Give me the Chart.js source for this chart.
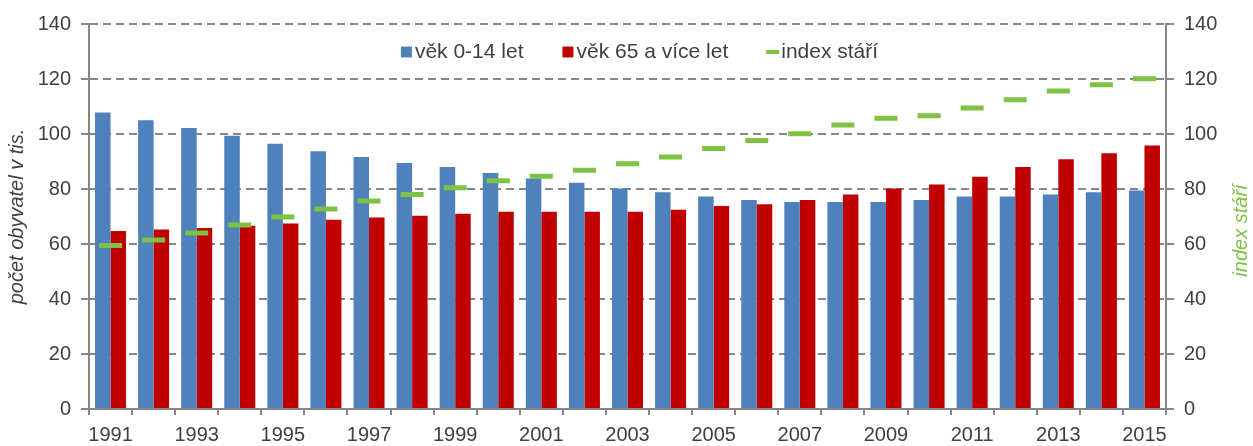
<!DOCTYPE html>
<html>
<head>
<meta charset="utf-8">
<script src="https://cdn.jsdelivr.net/npm/chart.js@4"></script>
<style>
  html, body { margin: 0; padding: 0; background: #fff; }
  #wrap { width: 1253px; height: 446px; }
</style>
</head>
<body>
<div id="wrap"><canvas id="graf"></canvas></div>
<script>
const roky = ["1991","1992","1993","1994","1995","1996","1997","1998","1999","2000","2001","2002","2003","2004","2005","2006","2007","2008","2009","2010","2011","2012","2013","2014","2015"];
const deti = [107.8,105.0,102.2,99.4,96.5,93.7,91.6,89.5,88.0,85.8,83.8,82.3,80.2,78.8,77.3,76.0,75.3,75.3,75.3,76.0,77.3,77.3,78.0,78.8,79.5];
const senioři = [64.7,65.3,65.8,66.6,67.5,68.8,69.6,70.3,71.0,71.7,71.7,71.7,71.7,72.5,73.8,74.5,76.0,78.0,80.2,81.6,84.5,88.0,90.8,93.0,95.8];
const indexStari = [59.5,61.5,64.0,66.9,69.8,72.7,75.6,78.0,80.5,83.0,84.6,86.8,89.2,91.6,94.7,97.6,100.1,103.3,105.7,106.6,109.5,112.5,115.6,117.9,120.1];

const sedá = '#868686';
const text = '#404040';
const zelena = '#7dc242';
const rodina = "'Liberation Sans', Arial, sans-serif";
const font = { family: rodina, size: 20 };

// legenda uvnitř grafu, vodorovně (Chart.js 'chartArea' ji skládá svisle)
// + popisek pravé osy čtený zdola nahoru jako v originálu
const legendaUvnitr = {
  id: 'legendaUvnitr',
  afterDraw(chart) {
    const c = chart.ctx;
    const area = chart.chartArea;
    c.save();
    c.font = '21px ' + rodina;
    c.textBaseline = 'middle';
    const box = 11, mezera = 3, odstup = 39;
    const polozky = chart.data.datasets.map(ds => ({
      ds, w: box + mezera + c.measureText(ds.label).width
    }));
    const celkem = polozky.reduce((s, p) => s + p.w, 0) + odstup * (polozky.length - 1);
    let x = (area.left + area.right) / 2 + 12 - celkem / 2;
    const y = area.top + 28;
    polozky.forEach(p => {
      if (p.ds.type === 'bar') {
        c.fillStyle = p.ds.backgroundColor;
        c.fillRect(x, y - box / 2, box, box);
      } else {
        c.strokeStyle = p.ds.borderColor;
        c.lineWidth = 4;
        c.beginPath();
        c.moveTo(x - 1, y);
        c.lineTo(x + box + 1, y);
        c.stroke();
      }
      c.fillStyle = text;
      c.fillText(p.ds.label, x + box + mezera, y);
      x += p.w + odstup;
    });

    const osa = chart.scales.y1;
    c.translate(osa.right - 12, (area.top + area.bottom) / 2 + 14);
    c.rotate(-Math.PI / 2);
    c.font = 'italic 20px ' + rodina;
    c.textAlign = 'center';
    c.fillStyle = zelena;
    c.fillText('index stáří', 0, 0);
    c.restore();
  }
};

const ctx = document.getElementById('graf').getContext('2d');
new Chart(ctx, {
  data: {
    labels: roky,
    datasets: [
      {
        type: 'bar',
        label: 'věk 0-14 let',
        data: deti,
        backgroundColor: '#4f81bd',
        categoryPercentage: 0.72,
        barPercentage: 1.0,
        yAxisID: 'y',
        order: 2
      },
      {
        type: 'bar',
        label: 'věk 65 a více let',
        data: senioři,
        backgroundColor: '#c00000',
        categoryPercentage: 0.72,
        barPercentage: 1.0,
        yAxisID: 'y',
        order: 2
      },
      {
        type: 'line',
        label: 'index stáří',
        data: indexStari,
        showLine: false,
        pointStyle: 'line',
        pointRadius: 11.5,
        pointHoverRadius: 11.5,
        borderWidth: 5,
        borderColor: zelena,
        backgroundColor: zelena,
        yAxisID: 'y1',
        order: 1
      }
    ]
  },
  options: {
    responsive: true,
    maintainAspectRatio: false,
    animation: false,
    layout: { padding: { top: 24, left: 0, right: 0, bottom: 0 } },
    scales: {
      x: {
        grid: { offset: true, drawOnChartArea: false, drawTicks: true, tickLength: 6, color: sedá, lineWidth: 2 },
        border: { color: sedá, width: 2 },
        ticks: {
          autoSkip: false,
          maxRotation: 0,
          padding: 8,
          color: text,
          font: font,
          callback: function (v, i) { return i % 2 === 0 ? this.getLabelForValue(v) : ''; }
        },
        afterFit: s => { s.height = 37; }
      },
      y: {
        position: 'left',
        min: 0, max: 140,
        ticks: { stepSize: 20, color: text, font: font, padding: 10 },
        grid: { color: sedá, lineWidth: 2, tickLength: 8, tickBorderDash: [] },
        border: { color: sedá, width: 2, dash: [8, 5] },
        title: {
          display: true,
          text: 'počet obyvatel v tis.',
          color: text,
          font: { family: rodina, size: 20, style: 'italic' },
          padding: { top: 5, bottom: 0 }
        },
        afterFit: s => { s.width = 89; }
      },
      y1: {
        position: 'right',
        min: 0, max: 140,
        ticks: { stepSize: 20, color: text, font: font, padding: 10 },
        grid: { drawOnChartArea: false, color: sedá, lineWidth: 2, tickLength: 8 },
        border: { color: sedá, width: 2 },
        afterFit: s => { s.width = 87; }
      }
    },
    plugins: {
      legend: { display: false },
      tooltip: { enabled: false }
    }
  },
  plugins: [legendaUvnitr]
});
</script>
</body>
</html>
